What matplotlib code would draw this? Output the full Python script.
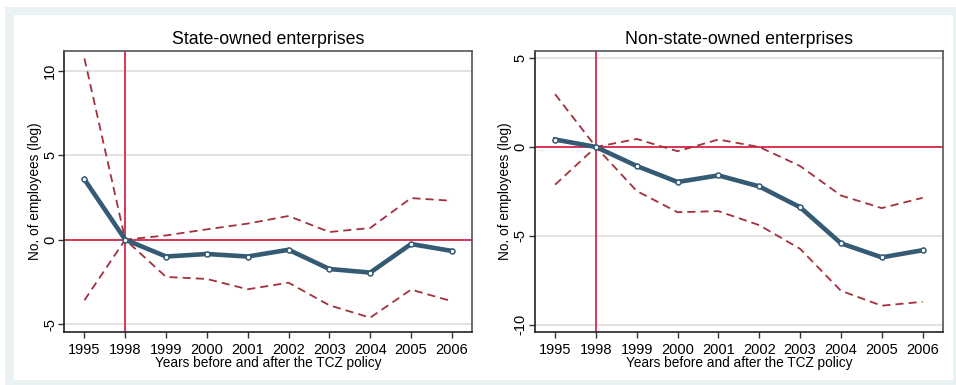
import matplotlib
matplotlib.use("Agg")
import matplotlib.pyplot as plt
from matplotlib.patches import Rectangle

plt.rcParams['font.family'] = ['Liberation Sans', 'DejaVu Sans']

years = ["1995", "1998", "1999", "2000", "2001", "2002", "2003", "2004", "2005", "2006"]

# state-owned enterprises
soe_coef = [3.57, 0.0, -1.0, -0.85, -1.0, -0.6, -1.74, -1.95, -0.26, -0.67]
soe_upper = [10.73, 0.0, 0.25, 0.61, 0.95, 1.4, 0.45, 0.69, 2.46, 2.3]
soe_lower = [-3.59, 0.0, -2.21, -2.33, -2.94, -2.55, -3.89, -4.62, -2.96, -3.65]

# non-state-owned enterprises
nsoe_coef = [0.42, 0.0, -1.07, -1.97, -1.6, -2.22, -3.39, -5.42, -6.21, -5.81]
nsoe_upper = [2.97, 0.0, 0.45, -0.24, 0.42, 0.0, -1.07, -2.73, -3.44, -2.86]
nsoe_lower = [-2.12, 0.0, -2.48, -3.67, -3.61, -4.4, -5.73, -8.09, -8.93, -8.71]

titles = ["State-owned enterprises", "Non-state-owned enterprises"]
yticks = [[-5, 0, 5, 10], [-10, -5, 0, 5]]
ylims = [(-5.47, 11.17), (-10.41, 5.4)]

navy = "#345a74"
darkred = "#a3303c"
refred = "#d8284a"

fig = plt.figure(figsize=(9.56, 3.85), dpi=100)
fig.add_artist(Rectangle((5 / 956, 0), 1, 1 - 7 / 385, transform=fig.transFigure,
                         facecolor="#e9f1f3", edgecolor="none", zorder=-10))
fig.add_artist(Rectangle((14 / 956, 5 / 385), (953 - 14) / 956, (380 - 15) / 385,
                         transform=fig.transFigure, facecolor="white",
                         edgecolor="none", zorder=-9))

panels = [(soe_coef, soe_upper, soe_lower), (nsoe_coef, nsoe_upper, nsoe_lower)]
lefts = [64 / 956, 534.7 / 956]
x = list(range(len(years)))

for i, (coef, up, lo) in enumerate(panels):
    ax = fig.add_axes([lefts[i], 1 - 332 / 385, 408.3 / 956, 281 / 385])
    ax.set_facecolor("white")
    for yt in yticks[i]:
        ax.axhline(yt, color="#dddddd", lw=1.2, zorder=1)
    ax.axhline(0, color=refred, lw=1.3, zorder=2)
    ax.axvline(1, color=refred, lw=1.3, zorder=2)
    ax.plot(x, up, color=darkred, lw=1.3, dashes=(4.5, 2.8), zorder=3)
    ax.plot(x, lo, color=darkred, lw=1.3, dashes=(4.5, 2.8), zorder=3)
    ax.plot(x, coef, color=navy, lw=3.3, marker="o", ms=3.6, mfc="white",
            mec=navy, mew=1.1, zorder=4)
    ax.set_xlim(-0.5, 9.5)
    ax.set_ylim(*ylims[i])
    ax.set_xticks(x)
    ax.set_xticklabels(years)
    ax.set_yticks(yticks[i])
    ax.set_yticklabels([str(v) for v in yticks[i]], rotation=90, va="center")
    ax.tick_params(labelsize=10.5, length=4, width=1, color="#333333")
    ax.tick_params(axis="x", pad=4)
    ax.tick_params(axis="y", pad=1)
    for s in ax.spines.values():
        s.set_color("#555555")
        s.set_linewidth(1.2)
    ax.spines["left"].set_color("#222222")
    ax.spines["bottom"].set_color("#222222")
    ax.set_title(titles[i], fontsize=12.8, pad=5)
    ax.set_xlabel("Years before and after the TCZ policy", fontsize=9.8, labelpad=-1)
    ax.set_ylabel("No. of employees (log)", fontsize=9.8, labelpad=1)

fig.savefig("out.png", dpi=100)
